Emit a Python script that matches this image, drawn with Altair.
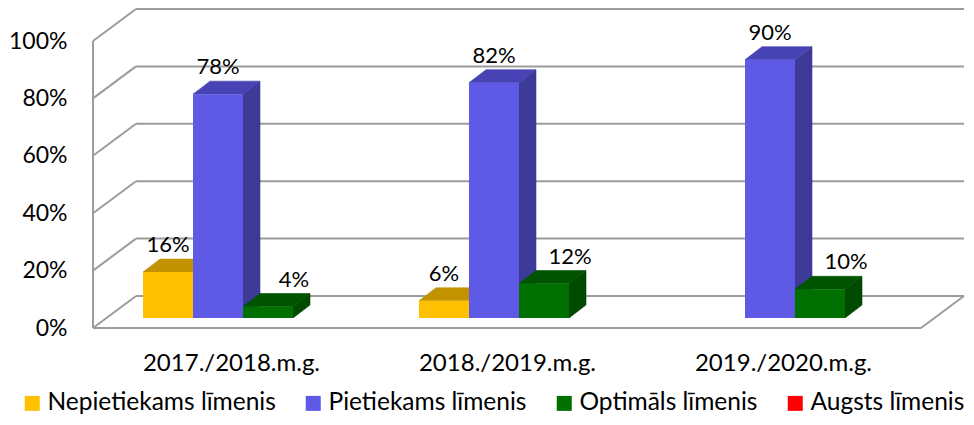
import altair as alt
import pandas as pd

# ---- data ----
categories = ["2017./2018.m.g.", "2018./2019.m.g.", "2019./2020.m.g."]
series = ["Nepietiekams līmenis", "Pietiekams līmenis", "Optimāls līmenis", "Augsts līmenis"]
nepietiekams = [16, 6, 0]
pietiekams = [78, 82, 90]
optimals = [4, 12, 10]
augsts = [0, 0, 0]
tick_values = [0, 20, 40, 60, 80, 100]

# ---- styles ----
front_colors = ["#FFC000", "#5E5AE6", "#007000", "#FF0000"]
top_colors = ["#C39200", "#4743B4", "#005400", "#C00000"]
side_colors = ["#A87E00", "#3E3A97", "#004A00", "#A00000"]
FONT = "Lato"
FS_NUM = 23
FS_LABEL = 22
FS_TEXT = 24
FS_LEGEND = 24.5
GRID = "#9c9c9c"

# ---- pseudo-3D geometry (pixel sizes converted to data units) ----
PX_X = 276.0   # px per category
PX_Y = 2.87    # px per percent
W_PX, H_PX = 873, 320
X_MAX = W_PX / PX_X
Y_MAX = H_PX / PX_Y
WALL_DX = 43 / PX_X
WALL_DY = 32 / PX_Y
BAR_W = 50 / PX_X
BAR_START = 50 / PX_X
BAR_BASE = 10 / PX_Y
DEPTH_DX = 17 / PX_X
DEPTH_DY = 13 / PX_Y
LABEL_SHIFT = {"Optimāls līmenis": 26 / PX_X}

values = [nepietiekams, pietiekams, optimals, augsts]
ncat = len(categories)

fronts, tops, sides, labels = [], [], [], []
for si, s in enumerate(series):
    for ci, c in enumerate(categories):
        v = values[si][ci]
        if v <= 0:
            continue
        x0 = ci + BAR_START + si * BAR_W
        x1 = x0 + BAR_W
        b = BAR_BASE
        t = b + v
        bid = f"{si}-{ci}"
        fronts.append(dict(series=s, x0=x0, x1=x1, y0=b, y1=t))
        for x, lo, hi in [(x0, t, t), (x0 + DEPTH_DX, t, t + DEPTH_DY),
                          (x1, t, t + DEPTH_DY), (x1 + DEPTH_DX, t + DEPTH_DY, t + DEPTH_DY)]:
            tops.append(dict(id="t" + bid, x=x, lo=lo, hi=hi, col=top_colors[si]))
        for x, lo, hi in [(x1, b, t), (x1 + DEPTH_DX, b + DEPTH_DY, t + DEPTH_DY)]:
            sides.append(dict(id="s" + bid, x=x, lo=lo, hi=hi, col=side_colors[si]))
        labels.append(dict(x=(x0 + x1) / 2 + LABEL_SHIFT.get(s, 0), y=t, text=f"{v}%"))

grid = []
for v in tick_values:
    grid.append(dict(x=0, y=v, x2=WALL_DX, y2=v + WALL_DY))
    grid.append(dict(x=WALL_DX, y=v + WALL_DY, x2=ncat + WALL_DX, y2=v + WALL_DY))
grid.append(dict(x=0, y=0, x2=0, y2=tick_values[-1]))
grid.append(dict(x=0, y=0, x2=ncat, y2=0))
grid.append(dict(x=ncat, y=0, x2=ncat + WALL_DX, y2=WALL_DY))

xscale = alt.Scale(domain=[0, X_MAX], nice=False, zero=False)
yscale = alt.Scale(domain=[0, Y_MAX], nice=False, zero=False)

cat_js = "[" + ",".join("'" + c + "'" for c in categories) + "]"
xaxis = alt.Axis(values=[i + 0.5 for i in range(ncat)],
                 labelExpr=f"{cat_js}[floor(datum.value)]",
                 domain=False, ticks=False, grid=False, title=None,
                 labelFont=FONT, labelFontSize=FS_TEXT, labelColor="black",
                 labelBaseline="middle", labelPadding=35, labelLimit=400)
yaxis = alt.Axis(values=tick_values, labelExpr="datum.value + '%'",
                 domain=False, ticks=False, grid=False, title=None,
                 labelFont=FONT, labelFontSize=FS_NUM, labelColor="black",
                 labelPadding=26)

grid_layer = alt.Chart(pd.DataFrame(grid)).mark_rule(color=GRID, strokeWidth=2).encode(
    x=alt.X("x:Q", scale=xscale, axis=xaxis),
    y=alt.Y("y:Q", scale=yscale, axis=yaxis),
    x2="x2:Q", y2="y2:Q")

side_layer = alt.Chart(pd.DataFrame(sides)).mark_area(interpolate="linear", strokeWidth=0.6).encode(
    x=alt.X("x:Q", scale=xscale, axis=xaxis),
    y=alt.Y("lo:Q", scale=yscale, axis=yaxis),
    y2="hi:Q",
    fill=alt.Fill("col:N", scale=None),
    stroke=alt.Stroke("col:N", scale=None),
    detail="id:N")

top_layer = alt.Chart(pd.DataFrame(tops)).mark_area(interpolate="linear", strokeWidth=0.6).encode(
    x=alt.X("x:Q", scale=xscale, axis=xaxis),
    y=alt.Y("lo:Q", scale=yscale, axis=yaxis),
    y2="hi:Q",
    fill=alt.Fill("col:N", scale=None),
    stroke=alt.Stroke("col:N", scale=None),
    detail="id:N")

front_layer = alt.Chart(pd.DataFrame(fronts)).mark_rect().encode(
    x=alt.X("x0:Q", scale=xscale, axis=xaxis),
    x2="x1:Q",
    y=alt.Y("y0:Q", scale=yscale, axis=yaxis),
    y2="y1:Q",
    color=alt.Color("series:N", scale=alt.Scale(domain=series, range=front_colors),
                    legend=alt.Legend(orient="none", legendX=-73, legendY=383,
                                      padding=0,
                                      direction="horizontal", columns=4, title=None,
                                      symbolType="square", symbolSize=225,
                                      symbolStrokeWidth=0, labelFont=FONT,
                                      labelFontSize=FS_LEGEND, labelColor="black",
                                      labelLimit=400, labelOffset=3,
                                      columnPadding=25)))

label_layer = alt.Chart(pd.DataFrame(labels)).mark_text(
    font=FONT, fontSize=FS_LABEL, color="black", dy=-27, baseline="middle", align="center").encode(
    x=alt.X("x:Q", scale=xscale, axis=xaxis),
    y=alt.Y("y:Q", scale=yscale, axis=yaxis),
    text="text:N")

chart = alt.layer(grid_layer, side_layer, top_layer, front_layer, label_layer).properties(
    width=W_PX, height=H_PX,
    padding={"left": 85, "top": 0, "right": 0, "bottom": 89},
    autosize=alt.AutoSizeParams(type="none"),
    background="white",
).configure_view(stroke=None)

chart.save("out.html", embed_options={"renderer": "svg", "actions": False})
